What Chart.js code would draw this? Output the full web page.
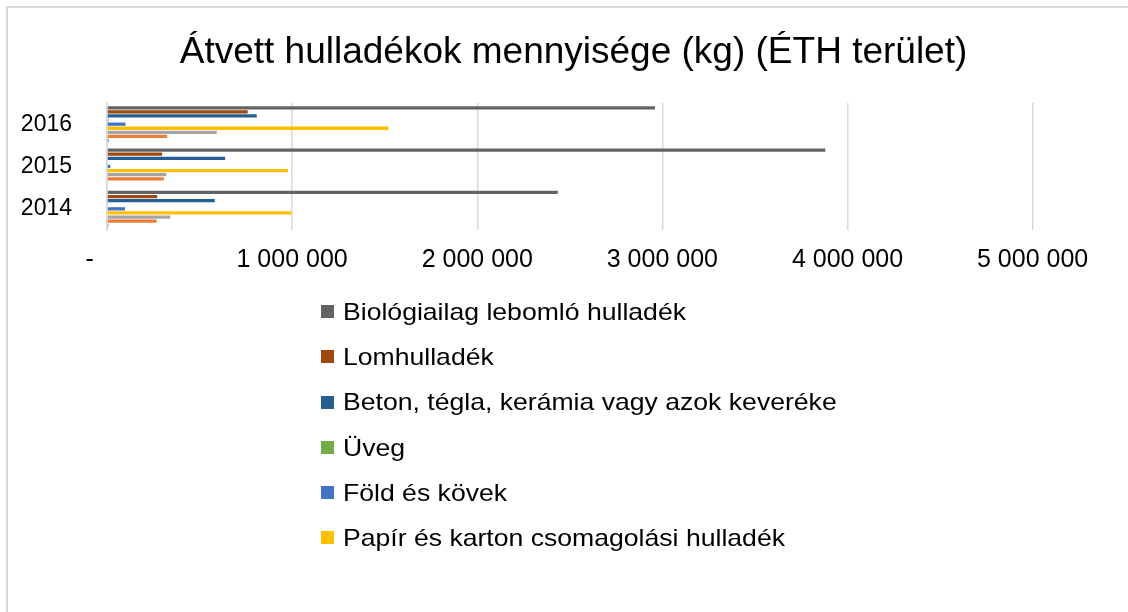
<!DOCTYPE html>
<html lang="hu">
<head>
<meta charset="utf-8">
<script src="https://cdn.jsdelivr.net/npm/chart.js@4.4.1/dist/chart.umd.min.js"></script>
<style>
    html, body { margin: 0; padding: 0; background: #fff; overflow: hidden; }
    body { width: 1128px; height: 612px; position: relative; font-family: "Liberation Sans", Arial, sans-serif; }
    .frame { position: absolute; left: 6px; top: 6px; width: 1300px; height: 800px; border: 2px solid #d9d9d9; box-sizing: border-box; }
    /* the chart box runs past the right edge of the window, like the original */
    .wrap { position: absolute; left: 7px; top: 0; width: 1133px; height: 612px; }
    #legend { position: absolute; left: 321px; top: 289px; margin: 0; padding: 0; list-style: none; }
    #legend li { height: 45.2px; line-height: 45.2px; font-size: 24px; color: #000; white-space: nowrap; }
    #legend span.box { display: inline-block; width: 13px; height: 13px; margin-right: 9px; vertical-align: middle; position: relative; top: -2px; }
    #legend span.txt { display: inline-block; transform: scaleX(1.108); transform-origin: 0 50%; }
</style>
</head>
<body>
<div class="frame"></div>
<div class="wrap"><canvas id="wasteChart"></canvas></div>
<ul id="legend"></ul>
<script>
// Years, top to bottom as in the picture
const years = ['2016', '2015', '2014'];

// Series (kg), one value per year in the order above
const biologiai = [2960000, 3880000, 2435000];
const lomhulladek = [760000, 298000, 271000];
const beton = [809000, 638000, 582000];
const uveg = [8000, 4000, 5000];
const fold = [100000, 18000, 97000];
const papir = [1520000, 978000, 996000];
const sorozat7 = [593000, 320000, 342000];
const sorozat8 = [325000, 307000, 268000];
const sorozat9 = [10000, 5000, 8000];

const xTicks = [0, 1000000, 2000000, 3000000, 4000000, 5000000];
// plot area keeps going a bit past the last gridline (off the visible edge)
const xAxisMax = 5580000;

const seriesNames = [
    'Biológiailag lebomló hulladék',
    'Lomhulladék',
    'Beton, tégla, kerámia vagy azok keveréke',
    'Üveg',
    'Föld és kövek',
    'Papír és karton csomagolási hulladék',
    'Sorozat 7',
    'Sorozat 8',
    'Sorozat 9'
];
const seriesData = [biologiai, lomhulladek, beton, uveg, fold, papir, sorozat7, sorozat8, sorozat9];
const seriesColors = ['#636363', '#9e480e', '#255e91', '#70ad47', '#4472c4', '#ffc000', '#a5a5a5', '#ed7d31', '#5b9bd5'];

// only the first six entries fit in the legend box
const legendCount = 6;

const FONT = '"Liberation Sans", Arial, sans-serif';

function formatKg(v) {
    // accounting style zero: the dash sits left of the axis
    if (v === 0) return '-     ';
    return String(v).replace(/\B(?=(\d{3})+(?!\d))/g, ' ');
}

const ctx = document.getElementById('wasteChart').getContext('2d');
const chart = new Chart(ctx, {
    type: 'bar',
    data: {
        labels: years,
        datasets: seriesNames.map((name, i) => ({
            label: name,
            data: seriesData[i],
            backgroundColor: seriesColors[i],
            borderWidth: 0,
            categoryPercentage: 0.87,
            barPercentage: 0.8
        }))
    },
    options: {
        indexAxis: 'y',
        responsive: true,
        maintainAspectRatio: false,
        animation: false,
        layout: {
            padding: { left: 0, right: 0, top: 0, bottom: 322 }
        },
        plugins: {
            legend: { display: false },
            tooltip: { enabled: false },
            title: {
                display: true,
                text: 'Átvett hulladékok mennyisége (kg) (ÉTH terület)',
                color: '#000',
                font: { family: FONT, size: 37, weight: 'normal' },
                padding: { top: 31, bottom: 27.6 }
            }
        },
        scales: {
            x: {
                min: 0,
                max: xAxisMax,
                afterBuildTicks: (scale) => {
                    scale.ticks = xTicks.map(v => ({ value: v }));
                },
                ticks: {
                    color: '#000',
                    font: { family: FONT, size: 25 },
                    padding: 15,
                    maxRotation: 0,
                    callback: (v) => formatKg(v)
                },
                grid: { color: '#d9d9d9', lineWidth: 1.5, drawTicks: false },
                border: { display: false }
            },
            y: {
                afterFit: (scale) => { scale.width = 100; },
                ticks: {
                    color: '#000',
                    font: { family: FONT, size: 23 },
                    padding: 35
                },
                grid: { display: false, drawTicks: false },
                border: { display: true, color: '#d9d9d9', width: 1.5 }
            }
        }
    }
});

// legend drawn as real text below the plot
const legendEl = document.getElementById('legend');
chart.data.datasets.slice(0, legendCount).forEach(ds => {
    const li = document.createElement('li');
    const box = document.createElement('span');
    box.className = 'box';
    box.style.background = ds.backgroundColor;
    const txt = document.createElement('span');
    txt.className = 'txt';
    txt.textContent = ds.label;
    li.appendChild(box);
    li.appendChild(txt);
    legendEl.appendChild(li);
});
</script>
</body>
</html>
